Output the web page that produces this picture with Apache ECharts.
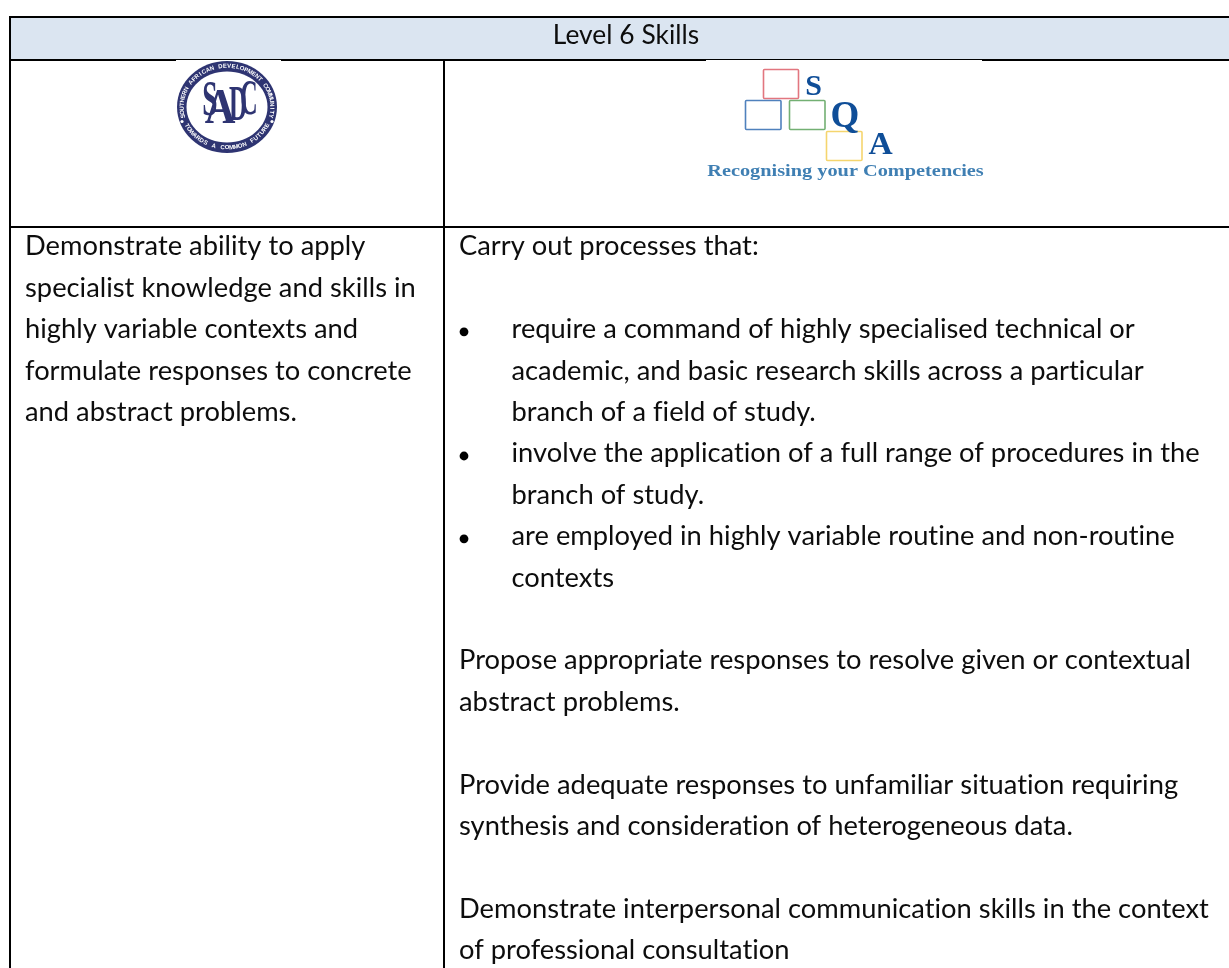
<!DOCTYPE html>
<html><head><meta charset="utf-8">
<style>html,body{margin:0;padding:0;background:#fff}#c{width:1229px;height:968px}</style>
<script src="https://cdn.jsdelivr.net/npm/echarts@6/dist/echarts.min.js"></script>
</head><body><div id="c"></div>
<script>
const headerTitle = 'Level 6 Skills';
const leftLines = [
  'Demonstrate ability to apply',
  'specialist knowledge and skills in',
  'highly variable contexts and',
  'formulate responses to concrete',
  'and abstract problems.'
];
const rightLines = [
  'Carry out processes that:',
  '',
  '•require a command of highly specialised technical or',
  '>academic, and basic research skills across a particular',
  '>branch of a field of study.',
  '•involve the application of a full range of procedures in the',
  '>branch of study.',
  '•are employed in highly variable routine and non-routine',
  '>contexts',
  '',
  'Propose appropriate responses to resolve given or contextual',
  'abstract problems.',
  '',
  'Provide adequate responses to unfamiliar situation requiring',
  'synthesis and consideration of heterogeneous data.',
  '',
  'Demonstrate interpersonal communication skills in the context',
  'of professional consultation'
];
const sadcTop = 'SOUTHERN AFRICAN DEVELOPMENT COMMUNITY';
const sadcBottom = 'TOWARDS A COMMON FUTURE';
const sadcLetters = ['S','A','D','C'];
const sqaLetters = ['S','Q','A'];
const sqaTagline = 'Recognising your Competencies';

// a tiny non-zero letter spacing switches off Lato's "ti" ligature
const _gc=HTMLCanvasElement.prototype.getContext;
HTMLCanvasElement.prototype.getContext=function(){const c=_gc.apply(this,arguments);if(c&&'letterSpacing' in c)c.letterSpacing='0.01px';return c;};

const INK='#0d0d0d', FONT='Lato', FS=26, SX=1.05, LH=41.4, TOP=247;
const NAVY='#2e3472', SQAB='#0f4e98';
const els=[];
const rect=(x,y,w,h,fill,stroke,lw)=>els.push({type:'rect',shape:{x,y,width:w,height:h},style:{fill:fill||'none',stroke:stroke||null,lineWidth:lw||0},silent:true});
const txt=(text,x,y,o={})=>els.push({type:'text',x,y,rotation:o.rot||0,scaleX:o.sx||1,scaleY:o.sy||1,silent:true,z:o.z||2,
  style:{text,x:0,y:0,fill:o.fill||INK,font:o.font||`${FS}px ${FONT}`,textAlign:o.align||'left',textVerticalAlign:'middle'}});

// table
rect(10,17,1219,43,'#dbe5f1');
rect(9,16,1220,2,'#000');
rect(9,59,1220,2,'#000');
rect(9,226,1220,2,'#000');
rect(9,16,2,952,'#000');
rect(443,60,2,908,'#000');
rect(176,60,105,1.4,'#fff');
rect(706,60,276,1.4,'#fff');

txt(headerTitle,626,36,{align:'center',sx:1.015});
leftLines.forEach((t,i)=>txt(t,25,TOP+i*LH,{sx:SX}));
rightLines.forEach((t,i)=>{
  if(!t) return;
  const y=TOP+i*LH;
  if(t[0]==='•'){
    els.push({type:'circle',shape:{cx:464,cy:y+2,r:4.4},style:{fill:'#000'},silent:true});
    txt(t.slice(1),511.5,y,{sx:SX});
  } else if(t[0]==='>') txt(t.slice(1),511.5,y,{sx:SX});
  else txt(t,459,y,{sx:SX});
});

// SADC logo
const cx=227,cy=107;
els.push({type:'ellipse',shape:{cx,cy,rx:50,ry:46},style:{fill:NAVY},silent:true});
els.push({type:'ellipse',shape:{cx,cy,rx:40.5,ry:35.5},style:{fill:'#fff'},silent:true});
const ringFont='bold 6px "Liberation Sans"';
const n=sadcTop.length, a0=-103, a1=103;
sadcTop.split('').forEach((c,i)=>{
  const t=(a0+(a1-a0)*i/(n-1))*Math.PI/180;
  txt(c,cx+45*Math.sin(t),cy-40.8*Math.cos(t),{rot:-t,font:ringFont,fill:'#fff',align:'center'});
});
const m=sadcBottom.length, b0=-63, b1=63;
sadcBottom.split('').forEach((c,i)=>{
  const t=(b0+(b1-b0)*i/(m-1))*Math.PI/180;
  txt(c,cx+45*Math.sin(t),cy+40.8*Math.cos(t),{rot:t,font:ringFont,fill:'#fff',align:'center'});
});
[[-1],[1]].forEach(([s])=>els.push({type:'circle',shape:{cx:cx+s*45,cy:cy+14.5,r:1.6},style:{fill:'#fff'},silent:true}));
const lf='bold 50px "Liberation Serif"';
const letterSpots=[[210,102,.55],[220,110,.85],[238,107,.5],[249,101,.48]];
sadcLetters.forEach((c,i)=>txt(c,letterSpots[i][0],letterSpots[i][1],{font:lf,fill:NAVY,align:'center',sx:letterSpots[i][2]}));

// SQA logo
const box=(x,y,w,h,c)=>els.push({type:'rect',shape:{x,y,width:w,height:h,r:1},style:{fill:'#fff',stroke:c,lineWidth:1.6},silent:true});
box(763.5,69.5,35,29,'#e2767f');
box(745.5,100.5,35.5,29,'#4f81bd');
box(789.5,100.5,35.5,29,'#73b073');
box(826.5,131.5,35.5,29,'#f5d56e');
const sqaSpots=[[813.5,87,30,1],[845,117,37,1],[880.5,146,31,1.08]];
sqaLetters.forEach((c,i)=>txt(c,sqaSpots[i][0],sqaSpots[i][1],{font:`bold ${sqaSpots[i][2]}px "Liberation Serif"`,fill:SQAB,align:'center',sx:sqaSpots[i][3]}));
txt(sqaTagline,845.5,172,{font:'bold 16.5px "Liberation Serif"',fill:'#3f7fb3',align:'center',sx:1.23});

echarts.init(document.getElementById('c'),null,{renderer:'canvas'}).setOption({
  animation:false,backgroundColor:'#fff',graphic:{elements:els}
});
</script></body></html>
